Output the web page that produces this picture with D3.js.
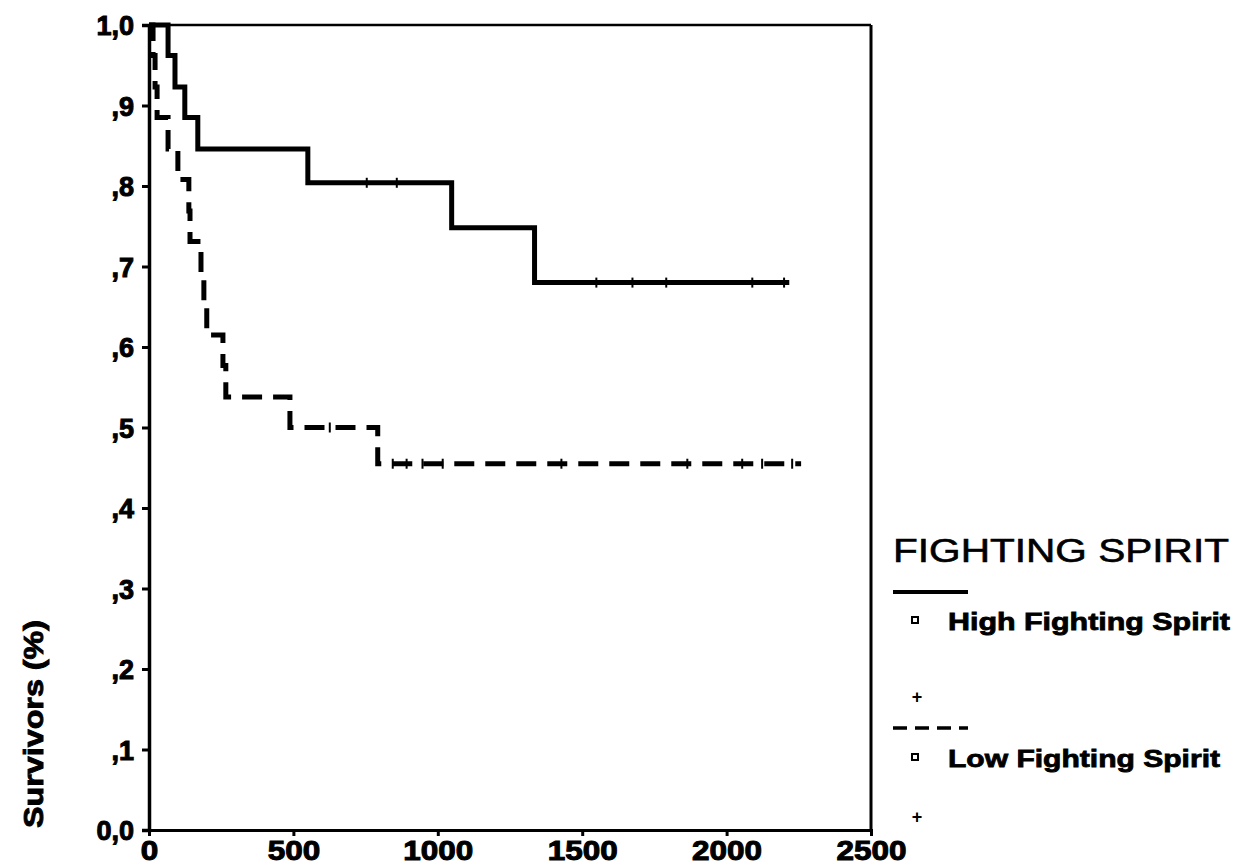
<!DOCTYPE html>
<html>
<head>
<meta charset="utf-8">
<script src="https://cdn.jsdelivr.net/npm/d3@7"></script>
<style>
  html, body { margin: 0; padding: 0; background: #fff; }
  svg { display: block; }
  text { font-family: "Liberation Sans", Arial, sans-serif; fill: #000; }
</style>
</head>
<body>
<svg id="chart" width="1236" height="867"></svg>
<script>
// ---- data ----
const highTimes = [0, 66, 90, 124, 169, 550, 1048, 1335, 2217];
const highSurv  = [1.0, 0.962, 0.923, 0.885, 0.846, 0.804, 0.748, 0.680, 0.680];
const highCensored = [754, 858, 1549, 1674, 1791, 2089, 2199];

const lowTimes = [0, 14, 21, 28, 66, 100, 138, 142, 180, 190, 200, 256, 266, 488, 792, 2258];
const lowSurv  = [1.0, 0.962, 0.923, 0.885, 0.846, 0.808, 0.769, 0.731, 0.692, 0.654, 0.615, 0.577, 0.538, 0.500, 0.455, 0.455];
const lowCensored = [626, 844, 892, 947, 1017, 1428, 1864, 2054, 2123, 2227];

const xTicks = [0, 500, 1000, 1500, 2000, 2500];
const yTicks = [0, 0.1, 0.2, 0.3, 0.4, 0.5, 0.6, 0.7, 0.8, 0.9, 1.0];
const yTickLabels = ["0,0", ",1", ",2", ",3", ",4", ",5", ",6", ",7", ",8", ",9", "1,0"];
const yTitle = "Survivors (%)";
const legendTitle = "FIGHTING SPIRIT";
const seriesNames = ["High Fighting Spirit", "Low Fighting Spirit"];

// ---- layout ----
const svg = d3.select("#chart");
const x = d3.scaleLinear().domain([0, 2500]).range([149, 871]);
const y = d3.scaleLinear().domain([0, 1]).range([830, 25]);

// frame
const g = svg.append("g");
g.append("line").attr("x1", x(0)).attr("x2", x(2500)).attr("y1", y(1)).attr("y2", y(1))
  .attr("stroke", "#000").attr("stroke-width", 2.5);
g.append("line").attr("x1", x(2500)).attr("x2", x(2500)).attr("y1", y(1)).attr("y2", y(0))
  .attr("stroke", "#000").attr("stroke-width", 3);

// y axis
const yAxis = d3.axisLeft(y).tickValues(yTicks).tickSize(7).tickPadding(8)
  .tickFormat((d, i) => yTickLabels[i]);
const ya = svg.append("g").attr("transform", `translate(${x(0)},0)`).call(yAxis);
ya.select(".domain").attr("stroke", "#000").attr("stroke-width", 3.5);
ya.selectAll(".tick line").attr("stroke", "#000").attr("stroke-width", 3);
ya.selectAll(".tick text")
  .style("font-family", "'Liberation Sans', Arial, sans-serif")
  .style("font-size", "27px").style("font-weight", "bold")
  .attr("fill", "#000").attr("stroke", "#000").attr("stroke-width", 1)
  .attr("dy", "0.36em");

// x axis
const xAxis = d3.axisBottom(x).tickValues(xTicks).tickSize(6).tickPadding(5)
  .tickFormat(d3.format("d"));
const xa = svg.append("g").attr("transform", `translate(0,${y(0)})`).call(xAxis);
xa.select(".domain").attr("stroke", "#000").attr("stroke-width", 3);
xa.selectAll(".tick line").attr("stroke", "#000").attr("stroke-width", 3);
xa.selectAll(".tick text")
  .style("font-family", "'Liberation Sans', Arial, sans-serif")
  .style("font-size", "27px").style("font-weight", "bold")
  .attr("fill", "#000").attr("stroke", "#000").attr("stroke-width", 1)
  .attr("textLength", d => String(d).length * 17.5)
  .attr("lengthAdjust", "spacingAndGlyphs");

// y title
svg.append("text")
  .attr("transform", `translate(43,724) rotate(-90)`)
  .attr("text-anchor", "middle")
  .style("font-size", "28px").style("font-weight", "bold")
  .attr("stroke", "#000").attr("stroke-width", 0.9)
  .attr("textLength", 208).attr("lengthAdjust", "spacingAndGlyphs")
  .text(yTitle);

// curves
const line = d3.line().x(d => x(d[0])).y(d => y(d[1])).curve(d3.curveStepAfter);
const highData = highTimes.map((t, i) => [t, highSurv[i]]);
const lowData = lowTimes.map((t, i) => [t, lowSurv[i]]);

svg.append("path").datum(highData).attr("d", line)
  .attr("fill", "none").attr("stroke", "#000").attr("stroke-width", 5)
  .attr("stroke-linejoin", "miter");
svg.append("path").datum(lowData).attr("d", line)
  .attr("fill", "none").attr("stroke", "#000").attr("stroke-width", 5)
  .attr("stroke-dasharray", "20,11");

// survival value at time t (step function)
function survAt(times, surv, t) {
  let v = surv[0];
  for (let i = 0; i < times.length; i++) if (times[i] <= t) v = surv[i];
  return v;
}
svg.append("g").selectAll("line").data(highCensored).join("line")
  .attr("x1", d => x(d)).attr("x2", d => x(d))
  .attr("y1", d => y(survAt(highTimes, highSurv, d)) - 5)
  .attr("y2", d => y(survAt(highTimes, highSurv, d)) + 5)
  .attr("stroke", "#000").attr("stroke-width", 2);
svg.append("g").selectAll("line").data(lowCensored).join("line")
  .attr("x1", d => x(d)).attr("x2", d => x(d))
  .attr("y1", d => y(survAt(lowTimes, lowSurv, d)) - 5)
  .attr("y2", d => y(survAt(lowTimes, lowSurv, d)) + 5)
  .attr("stroke", "#000").attr("stroke-width", 2);

// legend
const lg = svg.append("g");
lg.append("text").attr("x", 893).attr("y", 562)
  .style("font-size", "34px")
  .attr("stroke", "#000").attr("stroke-width", 0.6)
  .attr("textLength", 336).attr("lengthAdjust", "spacingAndGlyphs")
  .text(legendTitle);

lg.append("line").attr("x1", 893).attr("x2", 968).attr("y1", 592).attr("y2", 592)
  .attr("stroke", "#000").attr("stroke-width", 4);
lg.append("line").attr("x1", 893).attr("x2", 968).attr("y1", 728).attr("y2", 728)
  .attr("stroke", "#000").attr("stroke-width", 3.5).attr("stroke-dasharray", "14,8");

const entryY = [620, 757];
const plusY = [697, 817];
lg.selectAll("rect.mk").data(seriesNames).join("rect").attr("class", "mk")
  .attr("x", 912).attr("y", (d, i) => entryY[i] - 3).attr("width", 6).attr("height", 6)
  .attr("fill", "#fff").attr("stroke", "#000").attr("stroke-width", 2);
lg.selectAll("text.nm").data(seriesNames).join("text").attr("class", "nm")
  .attr("x", 948).attr("y", (d, i) => entryY[i] + 10)
  .style("font-size", "24px").style("font-weight", "bold")
  .attr("stroke", "#000").attr("stroke-width", 0.8)
  .attr("textLength", (d, i) => i === 0 ? 282 : 272).attr("lengthAdjust", "spacingAndGlyphs")
  .text(d => d);
lg.selectAll("text.pl").data(seriesNames).join("text").attr("class", "pl")
  .attr("x", 917).attr("y", (d, i) => plusY[i] + 6)
  .attr("text-anchor", "middle")
  .style("font-size", "18px").style("font-weight", "bold")
  .text("+");
</script>
</body>
</html>
